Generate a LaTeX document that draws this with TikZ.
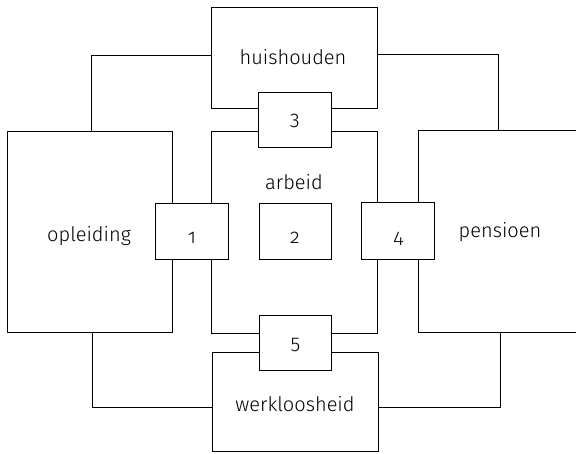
\documentclass[tikz,border=0pt]{standalone}
\usepackage{fontspec}
\setmainfont{Fira Sans}[Numbers=OldStyle,UprightFont={* Light}]
\begin{document}
\begin{tikzpicture}[x=1pt,y=-1pt,
  box/.style={draw,fill=white,line width=0.9pt,rectangle,inner sep=0pt,anchor=center},
  link/.style={draw,line width=0.9pt},
  txt/.style={anchor=base,inner sep=0pt,font=\fontsize{20}{24}\selectfont}]
\clip (0,0) rectangle (576,453);
% large boxes
\node[box,minimum width=166pt,minimum height=101.2pt] (hh) at (294,57.9) {};
\node[box,minimum width=166pt,minimum height=202pt] (arb) at (294.5,232) {};
\node[box,minimum width=165pt,minimum height=201pt] (opl) at (89.5,232) {};
\node[box,minimum width=163pt,minimum height=202.7pt] (pen) at (499.5,231.5) {};
\node[box,minimum width=166pt,minimum height=99pt] (wk) at (295,402) {};
% small boxes
\node[box,minimum width=73pt,minimum height=55.4pt] (b3) at (294.8,120) {};
\node[box,minimum width=73pt,minimum height=56pt] (b1) at (192,231.3) {};
\node[box,minimum width=72.5pt,minimum height=56pt] (b2) at (295.2,231.2) {};
\node[box,minimum width=73pt,minimum height=56.5pt] (b4) at (398.4,230.8) {};
\node[box,minimum width=72.5pt,minimum height=55.3pt] (b5) at (295.5,342.7) {};
% connectors
\draw[link] ([yshift=2.9pt]hh.west) -| ([xshift=1.8pt]opl.north);
\draw[link] ([yshift=3.6pt]hh.east) -| ([xshift=-0.8pt]pen.north);
\draw[link] ([xshift=2.8pt]opl.south) |- ([yshift=-5.7pt]wk.west);
\draw[link] ([xshift=0.8pt]pen.south) |- ([yshift=-5pt]wk.east);
% labels
\node[txt] (thh) at (293,64) {huishouden};
\node[txt] (tarb) at (294,189) {arbeid};
\node[txt] (topl) at (89,241) {opleiding};
\node[txt] (tpen) at (500,237.7) {pensioen};
\node[txt] (twk) at (295,411) {werkloosheid};
\node[txt] (n1) at (192,243.3) {1};
\node[txt] (n2) at (295,243.3) {2};
\node[txt] (n3) at (294.8,125.5) {3};
\node[txt] (n4) at (398.4,243) {4};
\node[txt] (n5) at (295.5,349) {5};
\end{tikzpicture}
\end{document}
